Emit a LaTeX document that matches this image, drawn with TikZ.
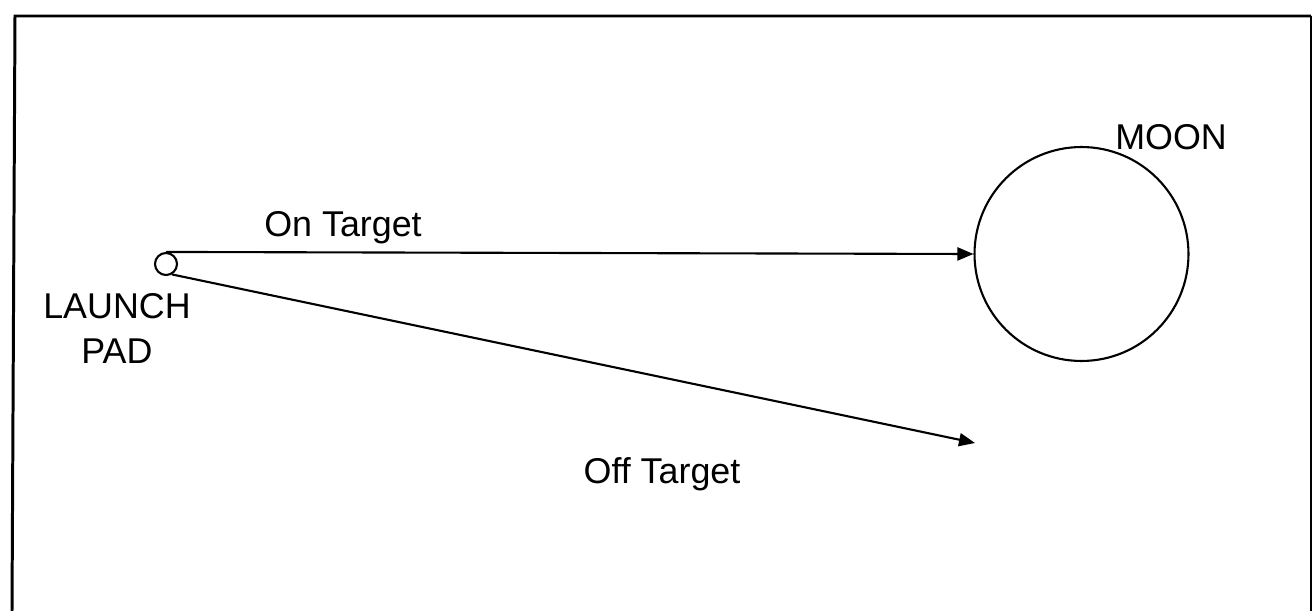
\documentclass[tikz,border=0pt]{standalone}
\usepackage{fontspec}
\setmainfont{Liberation Sans}
\usetikzlibrary{positioning,arrows.meta}

\begin{document}
\begin{tikzpicture}[
    x=0.02cm, y=-0.02cm,
    label/.style={font=\fontsize{20.4}{25.6}\selectfont, align=center, inner sep=0pt},
    body/.style={draw, circle, line width=1.2pt, inner sep=0pt},
    arrow/.style={-{Triangle[length=0.32cm,width=0.26cm]}, line width=1.2pt}
]
\useasboundingbox (0,0) rectangle (1312,611);

% ========== FRAME ==========
\draw[line width=1.7pt] (12,611) -- (15,16) -- (1311,16);
\draw[line width=0.8pt] (1311,16) -- (1311,611);

% ========== BODIES ==========
% Launch pad
\node[body, minimum size=0.44cm] (pad) at (166,264) {};
% Moon
\node[body, minimum size=4.28cm] (moon) at (1081.5,254) {};

% Free end of the missed shot
\coordinate (miss) at (975,443);

% ========== TRAJECTORIES ==========
\draw[arrow] (pad.north) -- (moon.west);
\draw[arrow] (pad.-60) -- (miss);

% ========== LABELS ==========
\node[label, anchor=north] (launchlbl) at (117,293) {LAUNCH\\PAD};
\node[label, anchor=base west] (moonlbl) at (1115,150) {MOON};
\node[label, anchor=base] (onlbl) at (343,237) {On Target};
\node[label, anchor=base] (offlbl) at (662,483) {Off Target};

\end{tikzpicture}
\end{document}
